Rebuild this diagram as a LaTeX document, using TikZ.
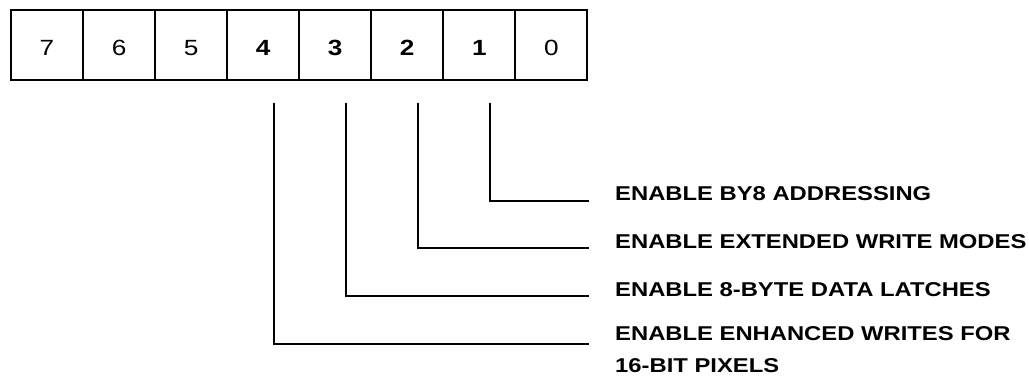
\documentclass[tikz,border=0pt]{standalone}
\usepackage{fontspec}
\setmainfont{Liberation Sans}[FakeStretch=1.19]
\usetikzlibrary{positioning}

\tikzset{
  bitcell/.style={draw,line width=2pt,rectangle,anchor=north west,outer sep=0pt,
    minimum width=72.05pt,minimum height=70.5pt,inner sep=0pt,
    text height=21.5pt,text depth=0pt,
    font=\fontsize{22}{24}\selectfont},
  bitoff/.style={},
  biton/.style={font=\fontsize{22}{24}\selectfont\bfseries},
  branch/.style={line width=2pt},
  lbl/.style={anchor=base west,inner sep=0pt,align=left,
    font=\fontsize{20}{31.6}\selectfont\bfseries}
}

\begin{document}
\begin{tikzpicture}[x=1pt,y=-1pt]
  \useasboundingbox (0,0) rectangle (1029,377);
  % register bits
  \foreach \b/\s [count=\i from 0] in {7/bitoff,6/bitoff,5/bitoff,4/biton,3/biton,2/biton,1/biton,0/bitoff}
    \node[bitcell,\s] (bit\b) at (11+72.05*\i,10) {\b};
  % ends of the branches
  \coordinate (end1) at (589,200.7);
  \coordinate (end2) at (589,248.3);
  \coordinate (end3) at (589,296.3);
  \coordinate (end4) at (589,344);
  \node[lbl] (lbl1) at ([xshift=26pt]end1) {ENABLE BY8 ADDRESSING};
  \node[lbl] (lbl2) at ([xshift=26pt]end2) {ENABLE EXTENDED WRITE MODES};
  \node[lbl] (lbl3) at ([xshift=26pt]end3) {ENABLE 8-BYTE DATA LATCHES};
  \node[lbl,yshift=-28.3pt] (lbl4) at ([xshift=26pt]end4) {ENABLE ENHANCED WRITES FOR\\16-BIT PIXELS};
  \foreach \b in {1,...,4}
    \draw[branch] ([xshift=11pt,yshift=-22.5pt]bit\b.south) |- (end\b);
\end{tikzpicture}
\end{document}
